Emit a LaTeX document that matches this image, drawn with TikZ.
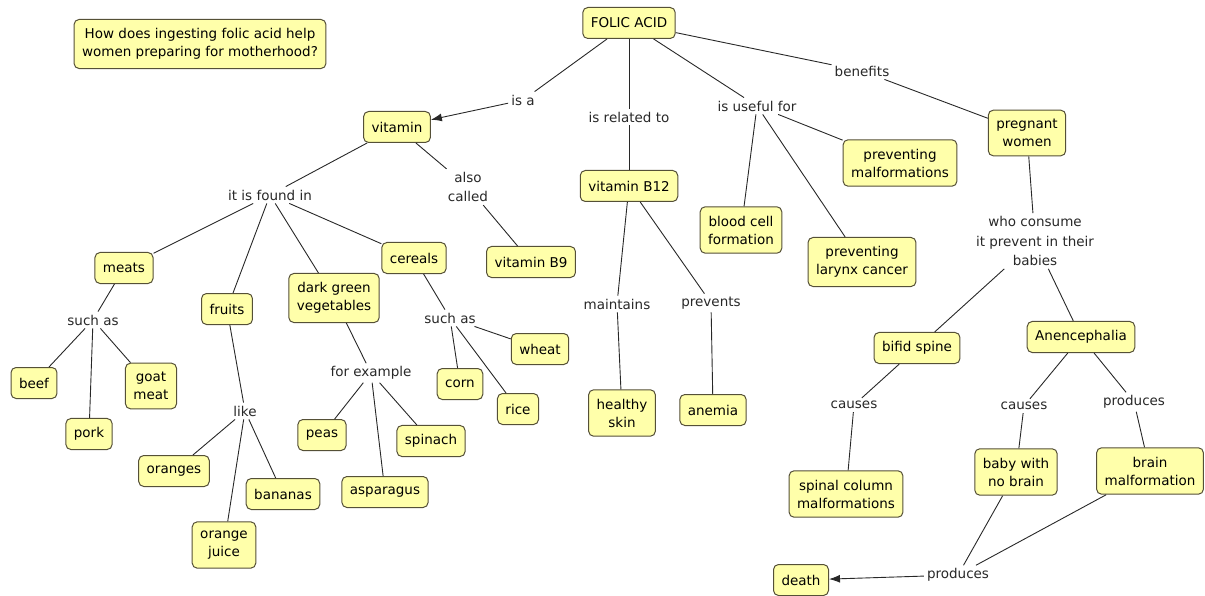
\documentclass[tikz,border=0pt]{standalone}
\usepackage{fontspec}
\setmainfont{DejaVu Sans}
\usetikzlibrary{arrows.meta}
\definecolor{cfill}{RGB}{255,255,170}
\definecolor{cline}{RGB}{85,80,55}
\definecolor{ltext}{RGB}{40,40,40}
\tikzset{
concept/.style={draw=cline, fill=cfill, rounded corners=5pt, line width=1pt, align=center, inner xsep=8pt, inner ysep=9pt, minimum height=31pt, font=\fontsize{13.5}{18}\selectfont},
phrase/.style={align=center, inner sep=3pt, text=ltext, font=\fontsize{13.5}{19.5}\selectfont},
link/.style={draw=ltext, line width=0.9pt},
tip/.style={-{Latex[length=11pt,width=8pt]}}
}
\begin{document}
\begin{tikzpicture}[x=1pt,y=-1pt]
\useasboundingbox (0,0) rectangle (1205,596);
\node[concept] (cid0) at (200,44){How does ingesting folic acid help\\women preparing for motherhood?};
\node[concept] (cid1) at (629,23){FOLIC ACID};
\node[phrase] (lid1) at (523,100){is a};
\node[concept] (cid2) at (397,127){vitamin};
\draw[link](cid1) -- (lid1);
\draw[link, tip](lid1) -- (cid2);
\node[phrase] (lid2) at (629,117){is related to};
\node[concept] (cid3) at (629,186){vitamin B12};
\draw[link](cid1) -- (lid2);
\draw[link](lid2) -- (cid3);
\node[phrase] (lid3) at (757,106){is useful for};
\node[concept] (cid4) at (900,163){preventing\\malformations};
\node[concept] (cid5) at (741,230){blood cell\\formation};
\node[concept] (cid6) at (862,262){preventing\\larynx cancer};
\draw[link](cid1) -- (lid3);
\draw[link](lid3) -- (cid4);
\draw[link](lid3) -- (cid5);
\draw[link](lid3) -- (cid6);
\node[phrase] (lid4) at (862,71){benefits};
\node[concept] (cid7) at (1027,133){pregnant\\women};
\draw[link](cid1) -- (lid4);
\draw[link](lid4) -- (cid7);
\node[phrase] (lid5) at (270,195){it is found in};
\node[concept] (cid8) at (124,268){meats};
\node[concept] (cid9) at (227,309){fruits};
\node[concept] (cid10) at (334,298){dark green\\vegetables};
\node[concept] (cid11) at (414,258){cereals};
\draw[link](cid2) -- (lid5);
\draw[link](lid5) -- (cid8);
\draw[link](lid5) -- (cid9);
\draw[link](lid5) -- (cid10);
\draw[link](lid5) -- (cid11);
\node[phrase] (lid6) at (468,187){also\\called};
\node[concept] (cid12) at (531,262){vitamin B9};
\draw[link](cid2) -- (lid6);
\draw[link](lid6) -- (cid12);
\node[phrase] (lid7) at (93,320){such as};
\node[concept] (cid13) at (34,383){beef};
\node[concept] (cid14) at (89,434){pork};
\node[concept] (cid15) at (151,386){goat\\meat};
\draw[link](cid8) -- (lid7);
\draw[link](lid7) -- (cid13);
\draw[link](lid7) -- (cid14);
\draw[link](lid7) -- (cid15);
\node[phrase] (lid8) at (245,411){like};
\node[concept] (cid16) at (174,471){oranges};
\node[concept] (cid17) at (224,545){orange\\juice};
\node[concept] (cid18) at (283,494){bananas};
\draw[link](cid9) -- (lid8);
\draw[link](lid8) -- (cid16);
\draw[link](lid8) -- (cid17);
\draw[link](lid8) -- (cid18);
\node[phrase] (lid9) at (371,373){for example};
\node[concept] (cid19) at (322,435){peas};
\node[concept] (cid20) at (385,492){asparagus};
\node[concept] (cid21) at (431,441){spinach};
\draw[link](cid10) -- (lid9);
\draw[link](lid9) -- (cid19);
\draw[link](lid9) -- (cid20);
\draw[link](lid9) -- (cid21);
\node[phrase] (lid10) at (450,318){such as};
\node[concept] (cid22) at (540,349){wheat};
\node[concept] (cid23) at (460,384){corn};
\node[concept] (cid24) at (518,409){rice};
\draw[link](cid11) -- (lid10);
\draw[link](lid10) -- (cid22);
\draw[link](lid10) -- (cid23);
\draw[link](lid10) -- (cid24);
\node[phrase] (lid11) at (617,304){maintains};
\node[concept] (cid25) at (622,413){healthy\\skin};
\draw[link](cid3) -- (lid11);
\draw[link](lid11) -- (cid25);
\node[phrase] (lid12) at (711,303){prevents};
\node[concept] (cid26) at (713,410){anemia};
\draw[link](cid3) -- (lid12);
\draw[link](lid12) -- (cid26);
\node[phrase] (lid13) at (1035,241){who consume\\it prevent in their\\babies};
\node[concept] (cid27) at (917,348){bifid spine};
\node[concept] (cid28) at (1081,337){Anencephalia};
\draw[link](cid7) -- (lid13);
\draw[link](lid13) -- (cid27);
\draw[link](lid13) -- (cid28);
\node[phrase] (lid14) at (854,405){causes};
\node[concept] (cid29) at (846,494){spinal column\\malformations};
\draw[link](cid27) -- (lid14);
\draw[link](lid14) -- (cid29);
\node[phrase] (lid15) at (1024,406){causes};
\node[concept] (cid30) at (1016,472){baby with\\no brain};
\draw[link](cid28) -- (lid15);
\draw[link](lid15) -- (cid30);
\node[phrase] (lid16) at (1134,402){produces};
\node[concept] (cid31) at (1150,471){brain\\malformation};
\draw[link](cid28) -- (lid16);
\draw[link](lid16) -- (cid31);
\node[phrase] (lid17) at (958,575){produces};
\node[concept] (cid32) at (801,580){death};
\draw[link](cid30) -- (lid17);
\draw[link](cid31) -- (lid17);
\draw[link, tip](lid17) -- (cid32);
\end{tikzpicture}
\end{document}
